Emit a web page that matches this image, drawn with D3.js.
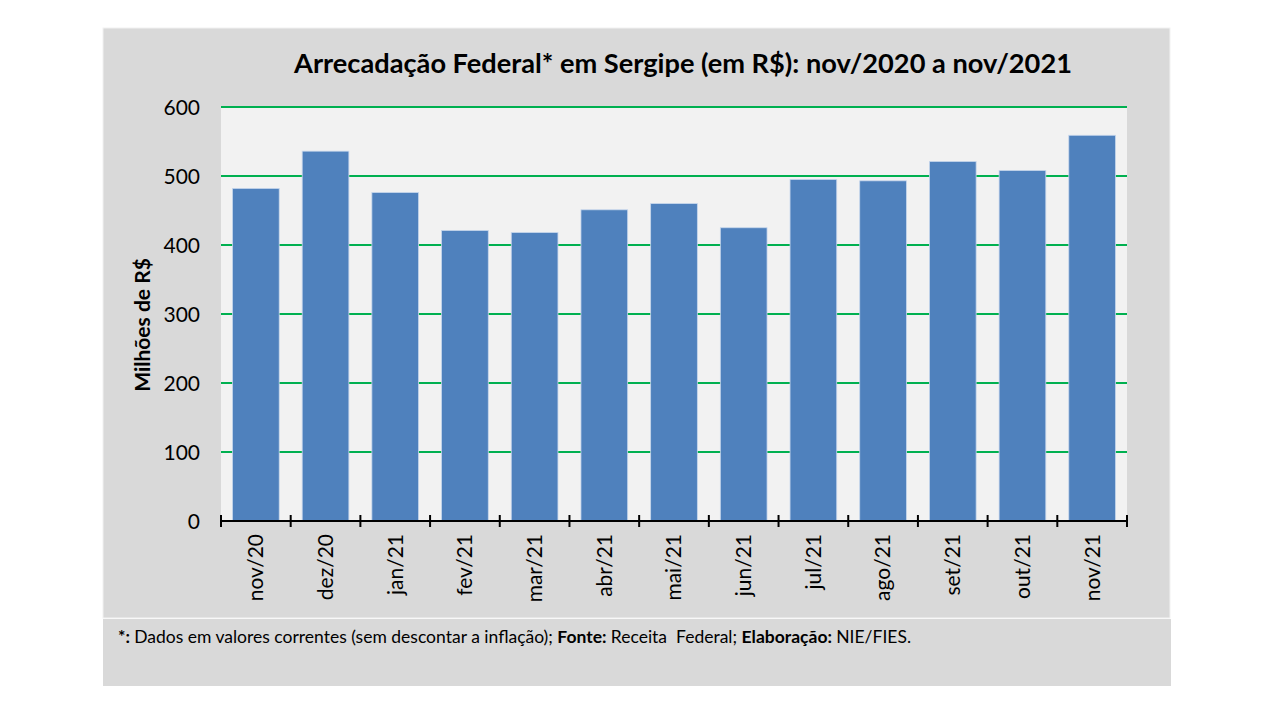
<!DOCTYPE html>
<html><head><meta charset="utf-8">
<script src="https://cdn.jsdelivr.net/npm/d3@7"></script>
<style>body{margin:0;background:#fff}svg{display:block}</style>
</head><body>
<svg id="c" width="1280" height="720"></svg>
<script>
const categories = ["nov/20","dez/20","jan/21","fev/21","mar/21","abr/21","mai/21","jun/21","jul/21","ago/21","set/21","out/21","nov/21"];
const values = [482, 536, 476, 421, 418, 451, 460, 425, 495, 493, 521, 508, 559];
const yTicks = [0,100,200,300,400,500,600];
const title = "Arrecadação Federal* em Sergipe (em R$): nov/2020 a nov/2021";
const yLabel = "Milhões de R$";

const svg = d3.select("#c");
const font = "Lato, 'Open Sans', sans-serif";
const M = {l:221, r:1127, t:107, b:521};

svg.append("rect").attr("x",103).attr("y",28).attr("width",1067).attr("height",590)
  .attr("fill","#d9d9d9").attr("stroke","#f2f2f2").attr("stroke-width",1);
svg.append("rect").attr("x",103).attr("y",619).attr("width",1068).attr("height",67)
  .attr("fill","#d9d9d9");

svg.append("rect").attr("x",M.l).attr("y",M.t).attr("width",M.r-M.l).attr("height",M.b-M.t).attr("fill","#f2f2f2");

const x = d3.scaleBand().domain(categories).range([M.l,M.r]).paddingInner(0.33).paddingOuter(0.165);
const y = d3.scaleLinear().domain([0,600]).range([M.b,M.t]);

// gridlines
svg.append("g").selectAll("line").data(yTicks.filter(d=>d>0)).join("line")
  .attr("x1",M.l).attr("x2",M.r).attr("y1",d=>y(d)).attr("y2",d=>y(d))
  .attr("stroke","#00b050").attr("stroke-width",2);

// bars
svg.append("g").selectAll("rect").data(values).join("rect")
  .attr("x",(d,i)=>x(categories[i])).attr("width",x.bandwidth())
  .attr("y",d=>y(d)).attr("height",d=>y(0)-y(d))
  .attr("fill","#4f81bd").attr("stroke","#c6d6ec").attr("stroke-width",0.8);

// y tick labels
const ya = d3.axisLeft(y).tickValues(yTicks).tickSize(0).tickPadding(21);
const gy = svg.append("g").attr("transform",`translate(${M.l},0)`).call(ya);
gy.select(".domain").remove();
gy.selectAll("text").attr("font-family",font).attr("font-size",21).attr("fill","#000").attr("dy","0.35em");

// x axis
const xa = d3.axisBottom(x).tickSize(0).tickPadding(0);
const gx = svg.append("g").attr("transform",`translate(0,${M.b})`).call(xa);
gx.select(".domain").attr("stroke","#000").attr("stroke-width",2).attr("d",`M${M.l},0H${M.r}`);
gx.selectAll("text").attr("font-family",font).attr("font-size",21).attr("fill","#000")
  .attr("transform","rotate(-90)").attr("text-anchor","end").attr("x",-13).attr("y",0).attr("dy","0.35em");
// boundary ticks
const step = x.step();
const bounds = d3.range(categories.length+1).map(i=>M.l + i*step);
svg.append("g").selectAll("line").data(bounds).join("line")
  .attr("x1",d=>d).attr("x2",d=>d).attr("y1",M.b-6).attr("y2",M.b+6)
  .attr("stroke","#000").attr("stroke-width",2);

// title
svg.append("text").attr("x",683).attr("y",73).attr("text-anchor","middle")
  .attr("font-family",font).attr("font-weight","bold").attr("font-size",27.2).attr("fill","#000").text(title);

// y label
svg.append("text").attr("transform","translate(150,325) rotate(-90)").attr("text-anchor","middle")
  .attr("font-family",font).attr("font-weight","bold").attr("font-size",21).attr("fill","#000").text(yLabel);

// footnote
const fn = svg.append("text").attr("x",118).attr("y",643).attr("font-family",font).attr("font-size",17.5).attr("fill","#000").attr("xml:space","preserve");
fn.append("tspan").attr("font-weight","bold").text("*: ");
fn.append("tspan").text("Dados em valores correntes (sem descontar a inflação); ");
fn.append("tspan").attr("font-weight","bold").text("Fonte: ");
fn.append("tspan").text("Receita  Federal; ");
fn.append("tspan").attr("font-weight","bold").text("Elaboração: ");
fn.append("tspan").text("NIE/FIES.");
</script>
</body></html>
